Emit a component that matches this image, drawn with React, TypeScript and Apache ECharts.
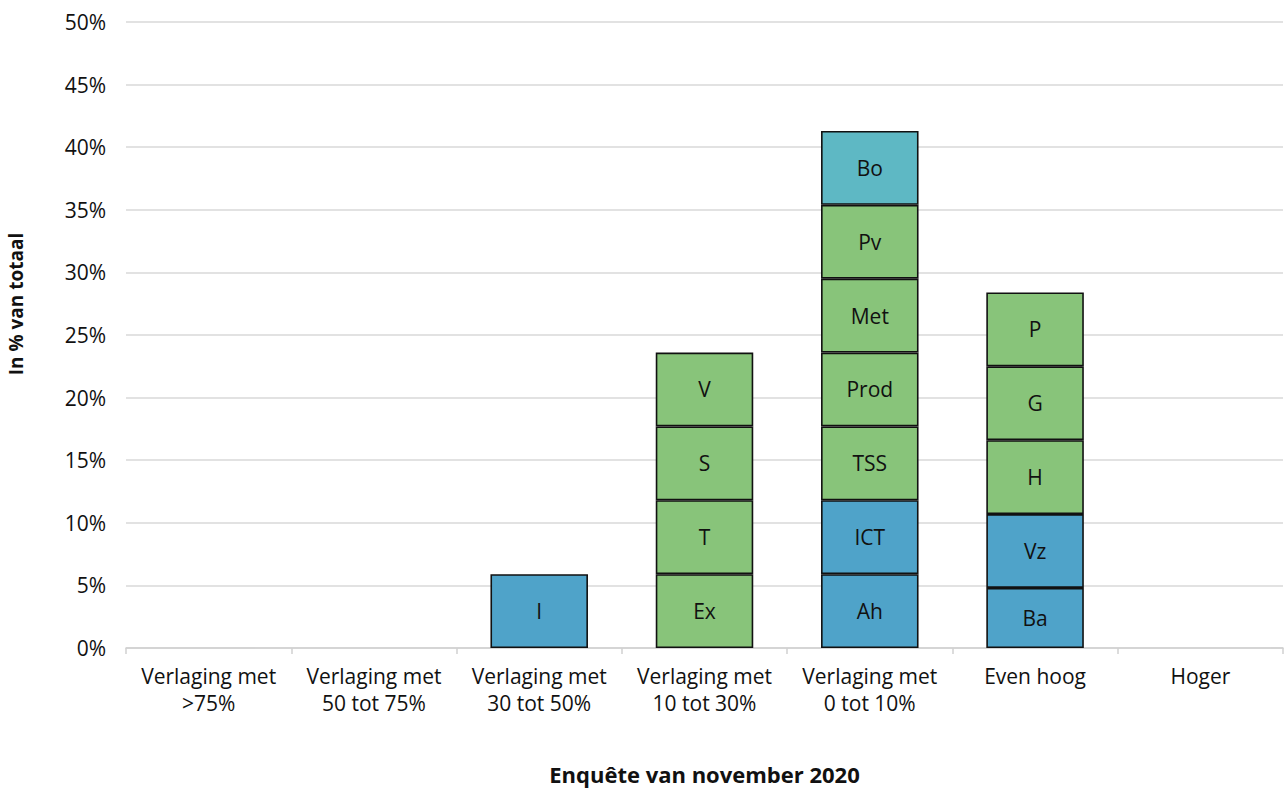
import React, { useEffect, useRef } from "react";
import * as echarts from "echarts";

const categories = [
  "Verlaging met\n>75%",
  "Verlaging met\n50 tot 75%",
  "Verlaging met\n30 tot 50%",
  "Verlaging met\n10 tot 30%",
  "Verlaging met\n0 tot 10%",
  "Even hoog",
  "Hoger",
];

// Segment labels per category, bottom to top
const segmentNames: string[][] = [
  [],
  [],
  ["I"],
  ["Ex", "T", "S", "V"],
  ["Ah", "ICT", "TSS", "Prod", "Met", "Pv", "Bo"],
  ["Ba", "Vz", "H", "G", "P"],
  [],
];

// Segment values (in % of total) per category, bottom to top
const segmentValues: number[][] = [
  [],
  [],
  [5.9],
  [5.9, 5.9, 5.9, 5.9],
  [5.9, 5.9, 5.9, 5.9, 5.9, 5.9, 5.9],
  [4.8, 5.9, 5.9, 5.9, 5.9],
  [],
];

// Segment colour groups per category, bottom to top (b = blue, g = green, t = teal)
const segmentGroups: string[][] = [
  [],
  [],
  ["b"],
  ["g", "g", "g", "g"],
  ["b", "b", "g", "g", "g", "g", "t"],
  ["b", "b", "g", "g", "g"],
  [],
];

const yTicks = ["0%", "5%", "10%", "15%", "20%", "25%", "30%", "35%", "40%", "45%", "50%"];

const groupColors: Record<string, string> = {
  b: "#4fa3c9",
  g: "#88c47a",
  t: "#5eb8c4",
};

const FONT = "'Open Sans', 'Noto Sans', sans-serif";

export default function App() {
  const ref = useRef<HTMLDivElement>(null);
  useEffect(() => {
    if (!ref.current) return;
    const chart = echarts.init(ref.current, undefined, { renderer: "svg" });
    const maxLevels = Math.max(...segmentNames.map((s) => s.length));
    const series: any[] = [];
    for (let lvl = 0; lvl < maxLevels; lvl++) {
      series.push({
        type: "bar",
        stack: "total",
        barWidth: "59%",
        data: categories.map((_, ci) => {
          const name = segmentNames[ci][lvl];
          if (!name) return "-";
          return {
            value: segmentValues[ci][lvl],
            name,
            itemStyle: { color: groupColors[segmentGroups[ci][lvl]] },
          };
        }),
        itemStyle: { borderColor: "#111", borderWidth: 1.6 },
        label: {
          show: true,
          position: "inside",
          formatter: (p: any) => (p.data && p.data.name ? p.data.name : ""),
          color: "#111",
          fontSize: 21,
          fontFamily: FONT,
        },
      });
    }
    chart.setOption({
      animation: false,
      grid: { left: 126, right: 2, top: 22, bottom: 142, containLabel: false },
      graphic: [
        {
          type: "text",
          x: 16,
          y: 304,
          rotation: Math.PI / 2,
          style: {
            text: "In % van totaal",
            align: "center",
            verticalAlign: "middle",
            fontFamily: FONT,
            fontWeight: "bold",
            fontSize: 19,
            fill: "#111",
          },
        },
      ],
      xAxis: {
        type: "category",
        data: categories,
        name: "Enquête van november 2020",
        nameLocation: "middle",
        nameGap: 115,
        nameTextStyle: { fontFamily: FONT, fontWeight: "bold", fontSize: 22, color: "#111" },
        axisLine: { lineStyle: { color: "#d0d0d0", width: 1.5 } },
        axisTick: { show: true, alignWithLabel: false, length: 6, lineStyle: { color: "#d0d0d0", width: 1.5 } },
        axisLabel: { fontFamily: FONT, fontSize: 21, color: "#111", lineHeight: 27, margin: 14, interval: 0 },
      },
      yAxis: {
        type: "value",
        min: 0,
        max: 50,
        interval: 5,
        axisLabel: {
          formatter: (v: number) => yTicks[Math.round(v / 5)] ?? "",
          fontFamily: FONT,
          fontSize: 21,
          color: "#111",
          margin: 20,
        },
        splitLine: { lineStyle: { color: "#d9d9d9", width: 1.5 } },
        axisLine: { show: false },
        axisTick: { show: false },
      },
      series,
    });
    return () => chart.dispose();
  }, []);
  return <div ref={ref} style={{ width: 1285, height: 790, position: "absolute", left: 0, top: 0 }} />;
}
